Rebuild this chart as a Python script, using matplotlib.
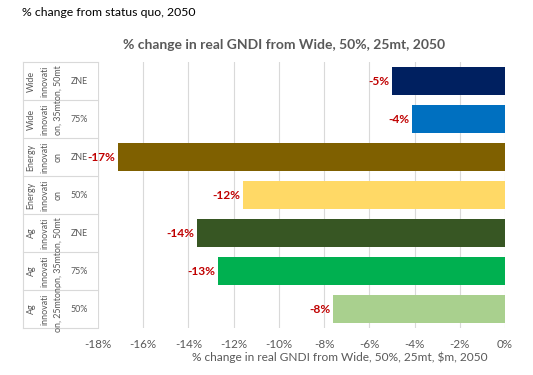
import matplotlib
matplotlib.use("Agg")
import matplotlib.pyplot as plt
import matplotlib.transforms as mtransforms

plt.rcParams['font.family'] = ['Lato', 'DejaVu Sans']

# data (top to bottom)
groups = ["Wide", "Wide", "Energy", "Energy", "Ag", "Ag", "Ag"]
subcats = ["ZNE", "75%", "ZNE", "50%", "ZNE", "75%", "50%"]
values = [-5.0, -4.1, -17.1, -11.6, -13.6, -12.7, -7.6]
colors = ["#002060", "#0070C0", "#7F6000", "#FFD966", "#375623", "#00B050", "#A9D08E"]
xticks = [-18, -16, -14, -12, -10, -8, -6, -4, -2, 0]
line2 = ["innovati"] * 7
line3 = [("on, 35mton, 50mt", 0.5), ("on", 2), ("on", 3), ("on, 35mton, 50mt", 4.5), ("on, 25mton,", 6)]

W, H = 533, 375
fig = plt.figure(figsize=(W / 100, H / 100), dpi=100)
left, right, top, bottom = 98, 505, 62, 328
ax = fig.add_axes([left / W, 1 - bottom / H, (right - left) / W, (bottom - top) / H])

n = len(values)
ypos = list(range(n))
ax.barh(ypos, values, height=0.73, color=colors, zorder=3)
ax.set_ylim(n - 0.5, -0.5)
ax.set_xlim(-18, 0)
ax.set_xticks(xticks)
ax.set_xticklabels([f"{t}%" for t in xticks], fontsize=8.4, color="#595959")
ax.tick_params(axis="x", length=0, pad=8)
ax.tick_params(axis="y", length=0, labelleft=False)
ax.grid(axis="x", color="#D9D9D9", linewidth=0.8, zorder=0)
for s in ax.spines.values():
    s.set_visible(False)
ax.set_xlabel("% change in real GNDI from Wide, 50%, 25mt, $m, 2050", fontsize=8.6, color="#595959", labelpad=3)
ax.xaxis.set_label_coords((340 - left) / (right - left), -0.09)

for y, v in zip(ypos, values):
    ax.text(v - 0.12, y, f"{round(v):d}%", ha="right", va="center", color="#C00000",
            fontsize=8.6, fontweight="bold", zorder=4)

# category label table
tr = mtransforms.blended_transform_factory(fig.transFigure, ax.transData)
xl0, xl1 = 23 / W, left / W
for k in range(n + 1):
    ax.plot([xl0, xl1], [k - 0.5, k - 0.5], transform=tr, color="#D9D9D9", lw=0.8, clip_on=False)
ax.plot([xl0, xl0], [-0.5, n - 0.5], transform=tr, color="#D9D9D9", lw=0.8, clip_on=False)
for y, g, l2, s in zip(ypos, groups, line2, subcats):
    ax.text(31 / W, y, g, transform=tr, rotation=90, ha="center", va="center", fontsize=6.4, color="#595959")
    ax.text(45 / W, y, l2, transform=tr, rotation=90, ha="center", va="center", fontsize=6.4, color="#595959")
    ax.text(79 / W, y, s, transform=tr, ha="center", va="center", fontsize=6.4, color="#595959")
for t, y in line3:
    ax.text(58 / W, y, t, transform=tr, rotation=90, ha="center", va="center", fontsize=6.4, color="#595959")

fig.text(22 / W, 1 - 12 / H, "% change from status quo, 2050", fontsize=8.8, color="#000000", va="center", ha="left")
fig.text(284 / W, 1 - 45 / H, "% change in real GNDI from Wide, 50%, 25mt, 2050", fontsize=10,
         fontweight="bold", color="#595959", va="center", ha="center")

fig.savefig("out.png", dpi=100)
